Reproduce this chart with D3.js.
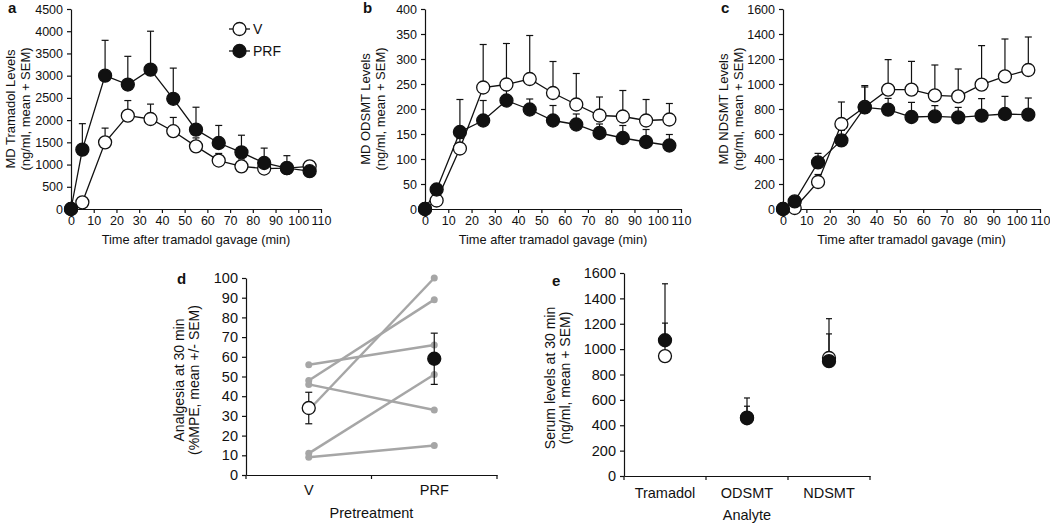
<!DOCTYPE html>
<html>
<head>
<meta charset="utf-8">
<script src="https://cdn.jsdelivr.net/npm/d3@7"></script>
<style>
  body { margin: 0; background: #fff; }
  svg { font-family: "Liberation Sans", Arial, sans-serif; }
</style>
</head>
<body>
<svg id="fig" width="1050" height="523"></svg>
<script>
// ---- data ----
var times = [0, 5, 15, 25, 35, 45, 55, 65, 75, 85, 95, 105];
var xTicks = [0, 10, 20, 30, 40, 50, 60, 70, 80, 90, 100, 110];

var tramV      = [0, 150, 1500, 2100, 2025, 1750, 1410, 1090, 960, 910, 920, 960];
var tramVSem   = [0, 40, 320, 340, 335, 310, 190, 160, 140, 140, 130, 90];
var tramPRF    = [0, 1335, 3000, 2800, 3135, 2480, 1785, 1485, 1275, 1035, 920, 850];
var tramPRFSem = [0, 585, 795, 635, 865, 690, 505, 395, 385, 335, 280, 150];

var odsmtV      = [0, 17, 121, 243, 249, 260, 232, 209, 187, 185, 177, 179];
var odsmtVSem   = [0, 5, 20, 86, 82, 87, 63, 62, 37, 52, 42, 32];
var odsmtPRF    = [0, 39, 154, 177, 217, 199, 177, 169, 152, 142, 134, 127];
var odsmtPRFSem = [0, 5, 65, 40, 20, 21, 30, 21, 18, 25, 25, 22];

var ndsmtV      = [0, 8, 216, 680, 816, 955, 955, 909, 901, 995, 1061, 1112];
var ndsmtVSem   = [0, 5, 60, 176, 171, 240, 226, 243, 219, 312, 299, 264];
var ndsmtPRF    = [0, 61, 373, 549, 813, 795, 736, 741, 733, 747, 760, 755];
var ndsmtPRFSem = [0, 10, 72, 80, 163, 90, 117, 86, 80, 136, 141, 133];

// panel d: individual animals, V -> PRF
var pretreat = ["V", "PRF"];
var painV   = [56, 48, 46, 33, 11, 9];
var painPRF = [66, 89, 33, 100, 51, 15];
var painMean = [34, 59];
var painSem  = [8, 13];

// panel e
var analytes = ["Tramadol", "ODSMT", "NDSMT"];
var serumV      = [945, 455, 930];
var serumVSem   = [260, 95, 310];
var serumPRF    = [1070, 460, 905];
var serumPRFSem = [445, 155, 215];

var svg = d3.select("#fig");
var ink = "#111";

function styleAxis(sel, fs) {
  sel.selectAll("path.domain").attr("stroke", ink).attr("stroke-width", 1.2);
  sel.selectAll(".tick line").attr("stroke", ink).attr("stroke-width", 1.2);
  sel.selectAll(".tick text").attr("fill", ink).style("font-size", fs + "px").attr("font-family", null);
}

function timePanel(o) {
  var g = svg.append("g");
  var x = d3.scaleLinear().domain([0, 110]).range([o.left, o.right]);
  var y = d3.scaleLinear().domain([0, o.ymax]).range([o.bottom, o.top]);

  g.append("g").attr("transform", "translate(0," + o.bottom + ")")
    .call(d3.axisBottom(x).tickValues(xTicks).tickSize(4).tickSizeOuter(0).tickPadding(3))
    .call(styleAxis, 12.5);
  g.append("g").attr("transform", "translate(" + o.left + ",0)")
    .call(d3.axisLeft(y).tickValues(d3.range(0, o.ymax + 1, o.ystep)).tickSize(4).tickSizeOuter(0).tickPadding(4).tickFormat(d3.format("d")))
    .call(styleAxis, 12.5);

  g.append("text").attr("x", (o.left + o.right) / 2).attr("y", o.bottom + 35)
    .attr("text-anchor", "middle").style("font-size", "12.8px").attr("fill", ink)
    .text("Time after tramadol gavage (min)");

  var ty = g.append("text").attr("transform", "translate(" + o.titleX + "," + (o.top + o.bottom) / 2 + ") rotate(-90)")
    .attr("text-anchor", "middle").style("font-size", "13px").attr("fill", ink);
  ty.append("tspan").attr("x", 0).attr("dy", 0).text(o.title);
  ty.append("tspan").attr("x", 0).attr("dy", 15.5).text("(ng/ml, mean + SEM)");

  g.append("text").attr("x", o.labelX).attr("y", 13).style("font-size", "15px").style("font-weight", "bold")
    .attr("fill", ink).text(o.label);

  var line = d3.line().x(function(d, i) { return x(times[i]); }).y(function(d) { return y(d); });

  o.series.forEach(function(s) {
    g.append("path").datum(s.mean).attr("d", line).attr("fill", "none").attr("stroke", ink).attr("stroke-width", 1.3);
    var eb = g.append("g").selectAll("g").data(s.mean).enter().append("g");
    eb.append("line")
      .attr("x1", function(d, i) { return x(times[i]); }).attr("x2", function(d, i) { return x(times[i]); })
      .attr("y1", function(d) { return y(d); }).attr("y2", function(d, i) { return y(d + s.sem[i]); })
      .attr("stroke", ink).attr("stroke-width", 1.2);
    eb.append("line")
      .attr("x1", function(d, i) { return x(times[i]) - 3.5; }).attr("x2", function(d, i) { return x(times[i]) + 3.5; })
      .attr("y1", function(d, i) { return y(d + s.sem[i]); }).attr("y2", function(d, i) { return y(d + s.sem[i]); })
      .attr("stroke", ink).attr("stroke-width", 1.2);
  });
  o.series.forEach(function(s) {
    g.append("g").selectAll("circle").data(s.mean).enter().append("circle")
      .attr("cx", function(d, i) { return x(times[i]); }).attr("cy", function(d) { return y(d); })
      .attr("r", 6.5).attr("fill", s.fill).attr("stroke", ink).attr("stroke-width", 1.3);
  });
  return g;
}

var pa = timePanel({ left: 71, right: 321, top: 9, bottom: 209, ymax: 4500, ystep: 500, label: "a", labelX: 8,
  titleX: 14.5, title: "MD Tramadol Levels",
  series: [{ mean: tramV, sem: tramVSem, fill: "#fff" }, { mean: tramPRF, sem: tramPRFSem, fill: ink }] });

timePanel({ left: 425, right: 681, top: 9, bottom: 209, ymax: 400, ystep: 50, label: "b", labelX: 363,
  titleX: 369.5, title: "MD ODSMT Levels",
  series: [{ mean: odsmtV, sem: odsmtVSem, fill: "#fff" }, { mean: odsmtPRF, sem: odsmtPRFSem, fill: ink }] });

timePanel({ left: 783, right: 1040, top: 9, bottom: 209, ymax: 1600, ystep: 200, label: "c", labelX: 721,
  titleX: 727.5, title: "MD NDSMT Levels",
  series: [{ mean: ndsmtV, sem: ndsmtVSem, fill: "#fff" }, { mean: ndsmtPRF, sem: ndsmtPRFSem, fill: ink }] });

// legend in panel a
[{ name: "V", fill: "#fff", y: 29 }, { name: "PRF", fill: ink, y: 51 }].forEach(function(l) {
  pa.append("line").attr("x1", 229).attr("x2", 250).attr("y1", l.y).attr("y2", l.y).attr("stroke", ink).attr("stroke-width", 1.3);
  pa.append("circle").attr("cx", 239.5).attr("cy", l.y).attr("r", 6.5).attr("fill", l.fill).attr("stroke", ink).attr("stroke-width", 1.3);
  pa.append("text").attr("x", 253).attr("y", l.y + 5).style("font-size", "14px").attr("fill", ink).text(l.name);
});

// ---- panel d ----
(function() {
  var left = 246, right = 497, top = 278, bottom = 475;
  var g = svg.append("g");
  var x = d3.scaleBand().domain(pretreat).range([left, right]);
  var y = d3.scaleLinear().domain([0, 100]).range([bottom, top]);
  var cx = function(c) { return x(c) + x.bandwidth() / 2; };

  g.append("g").attr("transform", "translate(" + left + ",0)")
    .call(d3.axisLeft(y).tickValues(d3.range(0, 101, 10)).tickSize(4).tickSizeOuter(0).tickPadding(4))
    .call(styleAxis, 14.5);
  var xa = g.append("g").attr("transform", "translate(0," + bottom + ")")
    .call(d3.axisBottom(x).tickSize(0).tickSizeOuter(0).tickPadding(10))
    .call(styleAxis, 14.5);
  xa.selectAll(".bound").data([left, left + x.step(), right]).enter().append("line")
    .attr("x1", function(d) { return d; }).attr("x2", function(d) { return d; })
    .attr("y1", 0).attr("y2", 4).attr("stroke", ink).attr("stroke-width", 1.2);

  g.append("text").attr("x", (left + right) / 2).attr("y", bottom + 43).attr("text-anchor", "middle")
    .style("font-size", "14.5px").attr("fill", ink).text("Pretreatment");
  var ty = g.append("text").attr("transform", "translate(184,380) rotate(-90)")
    .attr("text-anchor", "middle").style("font-size", "14px").attr("fill", ink);
  ty.append("tspan").attr("x", 0).attr("dy", 0).text("Analgesia at 30 min");
  ty.append("tspan").attr("x", 0).attr("dy", 14.5).text("(%MPE, mean +/- SEM)");
  g.append("text").attr("x", 177).attr("y", 284).style("font-size", "15px").style("font-weight", "bold")
    .attr("fill", ink).text("d");

  var grey = "#a6a6a6";
  painV.forEach(function(v, i) {
    var p = painPRF[i];
    g.append("line").attr("x1", cx("V")).attr("y1", y(v)).attr("x2", cx("PRF")).attr("y2", y(p))
      .attr("stroke", grey).attr("stroke-width", 2.5);
    g.append("circle").attr("cx", cx("V")).attr("cy", y(v)).attr("r", 3.5).attr("fill", grey);
    g.append("circle").attr("cx", cx("PRF")).attr("cy", y(p)).attr("r", 3.5).attr("fill", grey);
  });

  pretreat.forEach(function(c, i) {
    var m = painMean[i], s = painSem[i];
    g.append("line").attr("x1", cx(c)).attr("x2", cx(c)).attr("y1", y(m - s)).attr("y2", y(m + s))
      .attr("stroke", ink).attr("stroke-width", 1.2);
    [m - s, m + s].forEach(function(v) {
      g.append("line").attr("x1", cx(c) - 3.5).attr("x2", cx(c) + 3.5).attr("y1", y(v)).attr("y2", y(v))
        .attr("stroke", ink).attr("stroke-width", 1.2);
    });
    g.append("circle").attr("cx", cx(c)).attr("cy", y(m)).attr("r", 6.5)
      .attr("fill", i === 0 ? "#fff" : ink).attr("stroke", ink).attr("stroke-width", 1.3);
  });
})();

// ---- panel e ----
(function() {
  var left = 624, right = 870, top = 273, bottom = 476;
  var g = svg.append("g");
  var x = d3.scaleBand().domain(analytes).range([left, right]);
  var y = d3.scaleLinear().domain([0, 1600]).range([bottom, top]);
  var cx = function(c) { return x(c) + x.bandwidth() / 2; };

  g.append("g").attr("transform", "translate(" + left + ",0)")
    .call(d3.axisLeft(y).tickValues(d3.range(0, 1601, 200)).tickSize(4).tickSizeOuter(0).tickPadding(4).tickFormat(d3.format("d")))
    .call(styleAxis, 14.5);
  var xa = g.append("g").attr("transform", "translate(0," + bottom + ")")
    .call(d3.axisBottom(x).tickSize(0).tickSizeOuter(0).tickPadding(12))
    .call(styleAxis, 14.5);
  xa.selectAll(".bound").data(d3.range(analytes.length + 1)).enter().append("line")
    .attr("x1", function(d) { return left + d * x.step(); }).attr("x2", function(d) { return left + d * x.step(); })
    .attr("y1", 0).attr("y2", 4).attr("stroke", ink).attr("stroke-width", 1.2);

  g.append("text").attr("x", (left + right) / 2).attr("y", bottom + 44).attr("text-anchor", "middle")
    .style("font-size", "14.5px").attr("fill", ink).text("Analyte");
  var ty = g.append("text").attr("transform", "translate(555,378) rotate(-90)")
    .attr("text-anchor", "middle").style("font-size", "14px").attr("fill", ink);
  ty.append("tspan").attr("x", 0).attr("dy", 0).text("Serum levels at 30 min");
  ty.append("tspan").attr("x", 0).attr("dy", 15).text("(ng/ml, mean + SEM)");
  g.append("text").attr("x", 552).attr("y", 286).style("font-size", "15px").style("font-weight", "bold")
    .attr("fill", ink).text("e");

  var series = [{ mean: serumV, sem: serumVSem, fill: "#fff" }, { mean: serumPRF, sem: serumPRFSem, fill: ink }];
  series.forEach(function(s) {
    analytes.forEach(function(c, i) {
      var top = s.mean[i] + s.sem[i];
      g.append("line").attr("x1", cx(c)).attr("x2", cx(c)).attr("y1", y(s.mean[i])).attr("y2", y(top))
        .attr("stroke", ink).attr("stroke-width", 1.2);
      g.append("line").attr("x1", cx(c) - 3).attr("x2", cx(c) + 3).attr("y1", y(top)).attr("y2", y(top))
        .attr("stroke", ink).attr("stroke-width", 1.2);
    });
  });
  series.forEach(function(s) {
    analytes.forEach(function(c, i) {
      g.append("circle").attr("cx", cx(c)).attr("cy", y(s.mean[i])).attr("r", 6.5)
        .attr("fill", s.fill).attr("stroke", ink).attr("stroke-width", 1.3);
    });
  });
})();
</script>
</body>
</html>
